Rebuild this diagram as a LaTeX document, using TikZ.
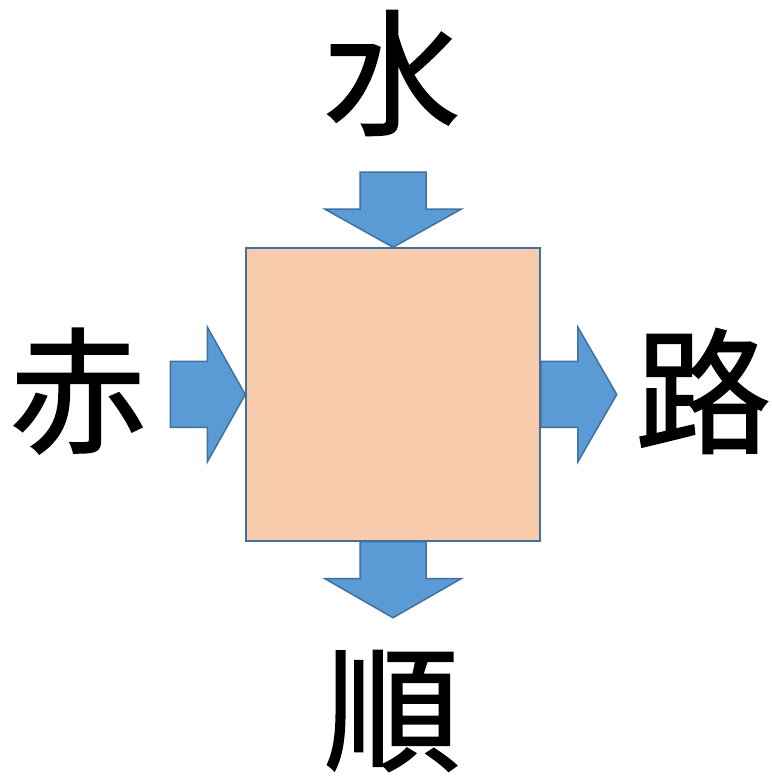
\documentclass[tikz,border=0pt]{standalone}
\usepackage{fontspec}
\newfontfamily\cjk[FakeBold=1.2]{Noto Sans CJK JP}
\definecolor{peach}{HTML}{F8CBAD}
\definecolor{arrowblue}{HTML}{5B9BD5}
\definecolor{edgeblue}{HTML}{41719C}
\begin{document}
\begin{tikzpicture}[x=1pt,y=1pt]
    \tikzstyle{kanji}=[inner sep=0pt,font=\cjk\fontsize{136}{136}\selectfont]
    \tikzstyle{bloc}=[draw=edgeblue,line width=1.5pt,fill=peach,minimum width=294pt,minimum height=293pt,inner sep=0pt]
    \tikzstyle{fleche}=[draw=edgeblue,line width=1.5pt,fill=arrowblue,line join=miter]
    \useasboundingbox (0,0) rectangle (771,779);
    \node[bloc] (carre) at (393,384.5) {};
    \node[kanji] (mizu) at (392,706) {水};
    \node[kanji] (aka) at (78,388) {赤};
    \node[kanji] (ro) at (703,388) {路};
    \node[kanji] (jun) at (392,68) {順};
    % fleches
    \draw[fleche] (carre.north) -- ++(-68,38) -- ++(35,0) -- ++(0,37) -- ++(66,0) -- ++(0,-37) -- ++(35,0) -- cycle;
    \draw[fleche] (carre.west) -- ++(-38,67.5) -- ++(0,-34.5) -- ++(-37,0) -- ++(0,-66) -- ++(37,0) -- ++(0,-34.5) -- cycle;
    \draw[fleche] ([yshift=33]carre.east) -- ++(37,0) -- ++(0,34.5) -- ++(39,-67.5) -- ++(-39,-67.5) -- ++(0,34.5) -- ++(-37,0) -- cycle;
    \draw[fleche] ([xshift=-33]carre.south) -- ++(0,-37) -- ++(-35,0) -- ++(68,-39) -- ++(68,39) -- ++(-35,0) -- ++(0,37) -- cycle;
\end{tikzpicture}
\end{document}
